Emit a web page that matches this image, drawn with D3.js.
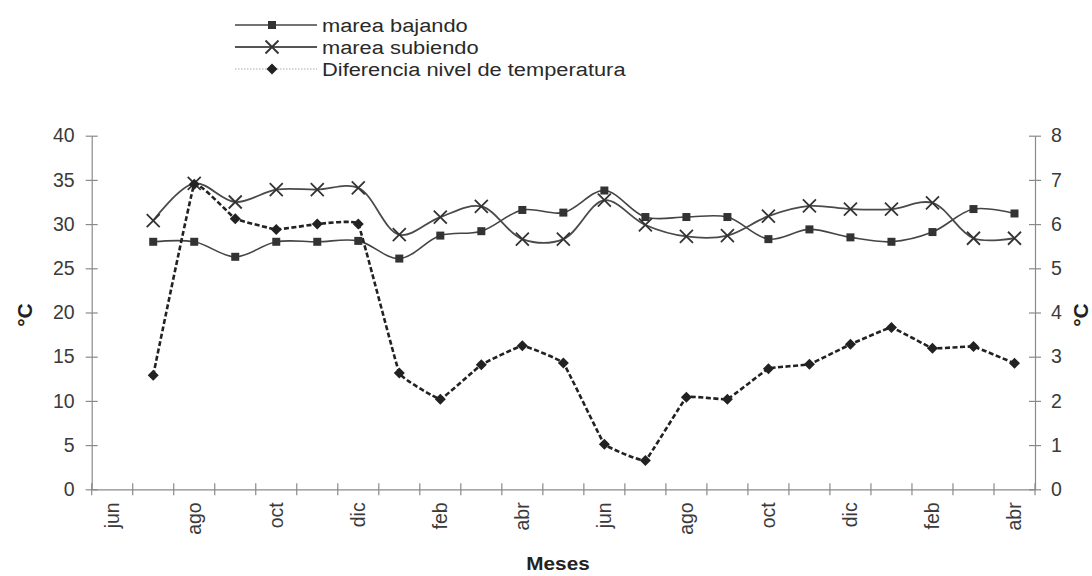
<!DOCTYPE html>
<html><head><meta charset="utf-8">
<script src="https://cdn.jsdelivr.net/npm/d3@7"></script>
<style>body{margin:0;background:#fff}svg{display:block}</style>
</head><body>
<svg id="c" width="1092" height="576"></svg>
<script>
const months = ["jun","jul","ago","sep","oct","nov","dic","ene","feb","mar","abr","may","jun","jul","ago","sep","oct","nov","dic","ene","feb","mar","abr"];
// values for months index 1..22 (jul .. abr); index 0 (jun) has no data
const mareaBajando = [null,28.0,28.0,26.3,28.0,28.0,28.1,26.1,28.7,29.2,31.6,31.3,33.8,30.8,30.8,30.8,28.3,29.4,28.5,28.0,29.1,31.7,31.2];
const mareaSubiendo = [null,30.4,34.6,32.5,33.9,33.9,34.1,28.8,30.8,32.0,28.3,28.3,32.7,29.9,28.6,28.7,30.9,32.05,31.7,31.7,32.4,28.4,28.4];
const diferencia = [null,2.58,6.9,6.12,5.88,6.0,6.0,2.63,2.04,2.82,3.25,2.86,1.02,0.65,2.08,2.04,2.73,2.83,3.28,3.66,3.19,3.23,2.85];
const leftTicks = [0,5,10,15,20,25,30,35,40];
const rightTicks = [0,1,2,3,4,5,6,7,8];
const seriesNames = ["marea bajando","marea subiendo","Diferencia nivel de temperatura"];

const svg = d3.select("#c");
const X0 = 91.7, X1 = 1035, Y0 = 489.3, Y1 = 135.7;
const x = d3.scaleBand().domain(d3.range(months.length)).range([X0, X1]).padding(0);
const yL = d3.scaleLinear().domain([0,40]).range([Y0, Y1]);
const yR = d3.scaleLinear().domain([0,8]).range([Y0, Y1]);
const cx = i => x(i) + x.bandwidth()/2;
const axisCol = "#8a8a8a", textCol = "#3a3a3a";
const font = "'Liberation Sans', Arial, sans-serif";

// left axis
const gL = svg.append("g").attr("transform", `translate(${X0},0)`)
  .call(d3.axisLeft(yL).tickValues(leftTicks).tickSizeInner(6).tickSizeOuter(0).tickPadding(11));
gL.selectAll(".tick line").attr("x2", 6).attr("x1",-6);
// right axis
const gR = svg.append("g").attr("transform", `translate(${X1},0)`)
  .call(d3.axisRight(yR).tickValues(rightTicks).tickSizeInner(6).tickSizeOuter(0).tickPadding(10));
gR.selectAll(".tick line").attr("x1", -6).attr("x2", 6);
// bottom axis
const gB = svg.append("g").attr("transform", `translate(0,${Y0})`)
  .call(d3.axisBottom(x).tickFormat((d,i)=> i%2===0 ? months[i] : "").tickSize(0).tickPadding(0));
gB.selectAll(".tick text")
  .attr("transform","translate(0,13) rotate(-90)")
  .attr("text-anchor","end").attr("dy","0.35em").attr("x",0).attr("y",0);
gB.selectAll(".bound").data(d3.range(months.length+1)).enter().append("line")
  .attr("class","bound")
  .attr("x1", i => X0 + i*x.bandwidth()).attr("x2", i => X0 + i*x.bandwidth())
  .attr("y1",-6).attr("y2",6);

[gL,gR,gB].forEach(g=>{
  g.selectAll("path.domain").attr("stroke",axisCol).attr("stroke-width",1.2);
  g.selectAll("line").attr("stroke",axisCol).attr("stroke-width",1.2);
  g.selectAll("text").attr("fill",textCol).attr("font-family",font).attr("font-size",19.5);
});

const idx = d3.range(1, months.length);
const lineL = arr => d3.line().x(i=>cx(i)).y(i=>yL(arr[i])).curve(d3.curveCatmullRom.alpha(0.5))(idx);
const lineR = arr => d3.line().x(i=>cx(i)).y(i=>yR(arr[i])).curve(d3.curveCardinal.tension(0.8))(idx);

svg.append("path").attr("d", lineL(mareaBajando)).attr("fill","none").attr("stroke","#444").attr("stroke-width",1.6);
svg.append("path").attr("d", lineL(mareaSubiendo)).attr("fill","none").attr("stroke","#4a4a4a").attr("stroke-width",1.8);
svg.append("path").attr("d", lineR(diferencia)).attr("fill","none").attr("stroke","#222").attr("stroke-width",2.6).attr("stroke-dasharray","5,2.5");

function square(g, px, py){ g.append("rect").attr("x",px-4).attr("y",py-4).attr("width",8).attr("height",8).attr("fill","#333"); }
function cross(g, px, py){ const s=6.5; g.append("path").attr("d",`M${px-s},${py-s}L${px+s},${py+s}M${px-s},${py+s}L${px+s},${py-s}`).attr("stroke","#333").attr("stroke-width",1.8).attr("fill","none"); }
function diamond(g, px, py){ const s=5.5; g.append("path").attr("d",`M${px},${py-s}L${px+s},${py}L${px},${py+s}L${px-s},${py}Z`).attr("fill","#222"); }

const m = svg.append("g");
idx.forEach(i=>{
  square(m, cx(i), yL(mareaBajando[i]));
  cross(m, cx(i), yL(mareaSubiendo[i]));
  diamond(m, cx(i), yR(diferencia[i]));
});

// legend
const lg = svg.append("g");
const rows = [25, 47, 69];
const lx1 = 235, lx2 = 317, lmx = 272;
lg.append("line").attr("x1",lx1).attr("x2",lx2).attr("y1",rows[0]).attr("y2",rows[0]).attr("stroke","#444").attr("stroke-width",1.6);
square(lg, lmx, rows[0]);
lg.append("line").attr("x1",lx1).attr("x2",lx2).attr("y1",rows[1]).attr("y2",rows[1]).attr("stroke","#555").attr("stroke-width",2);
cross(lg, lmx, rows[1]);
lg.append("line").attr("x1",lx1).attr("x2",lx2).attr("y1",rows[2]).attr("y2",rows[2]).attr("stroke","#aaa").attr("stroke-width",1).attr("stroke-dasharray","1.5,1.5");
diamond(lg, lmx, rows[2]);
seriesNames.forEach((n,k)=>{
  lg.append("text").attr("transform",`translate(322,${rows[k]}) scale(1.15,1)`).attr("dy","0.35em").text(n)
    .attr("font-family",font).attr("font-size",19).attr("fill","#2a2a2a");
});

// axis titles
svg.append("text").attr("transform","translate(25,315) rotate(-90)").attr("text-anchor","middle").attr("dy","0.35em")
  .text("°C").attr("font-family",font).attr("font-size",21).attr("font-weight","bold").attr("fill","#222");
svg.append("text").attr("transform","translate(1081,315) rotate(-90)").attr("text-anchor","middle").attr("dy","0.35em")
  .text("°C").attr("font-family",font).attr("font-size",21).attr("font-weight","bold").attr("fill","#222");
svg.append("text").attr("transform","translate(558,570) scale(1.12,1)").attr("text-anchor","middle")
  .text("Meses").attr("font-family",font).attr("font-size",18.5).attr("font-weight","bold").attr("fill","#222");
</script>
</body></html>
